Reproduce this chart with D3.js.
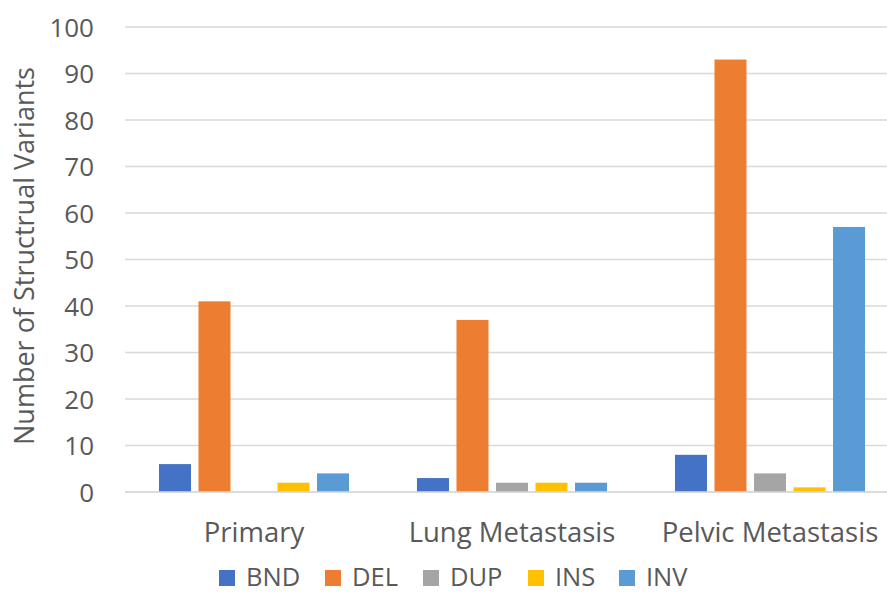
<!DOCTYPE html>
<html>
<head>
<meta charset="utf-8">
<script src="https://cdn.jsdelivr.net/npm/d3@7"></script>
<style>
  html, body { margin: 0; padding: 0; background: #fff; }
  svg { display: block; }
  text { font-family: "Open Sans", "Liberation Sans", sans-serif; fill: #595959; }
</style>
</head>
<body>
<svg id="chart" width="887" height="595"></svg>
<script>
// Structural variant counts per sample
const categories = ["Primary", "Lung Metastasis", "Pelvic Metastasis"];
const seriesNames = ["BND", "DEL", "DUP", "INS", "INV"];
const seriesColors = ["#4472C4", "#ED7D31", "#A5A5A5", "#FFC000", "#5B9BD5"];
const BND = [6, 3, 8];
const DEL = [41, 37, 93];
const DUP = [0, 2, 4];
const INS = [2, 2, 1];
const INV = [4, 2, 57];
const yTicks = [0, 10, 20, 30, 40, 50, 60, 70, 80, 90, 100];
const yTitle = "Number of Structrual Variants";

const seriesValues = [BND, DEL, DUP, INS, INV];

const svg = d3.select("#chart");
const plot = { left: 125, right: 899, top: 27, bottom: 492 };

const x0 = d3.scaleBand().domain(categories).range([plot.left, plot.right]).padding(0);
const x1 = d3.scaleBand().domain(seriesNames).range([0, x0.bandwidth()])
  .paddingInner(0.19).paddingOuter(0.86);
const y = d3.scaleLinear().domain([0, 100]).range([plot.bottom, plot.top]);
const color = d3.scaleOrdinal().domain(seriesNames).range(seriesColors);

// Horizontal gridlines
svg.append("g")
  .selectAll("line")
  .data(yTicks)
  .join("line")
  .attr("x1", plot.left).attr("x2", plot.right)
  .attr("y1", d => y(d)).attr("y2", d => y(d))
  .attr("stroke", "#D9D9D9").attr("stroke-width", 1.3);

// Y axis labels
const yAxis = d3.axisLeft(y).tickValues(yTicks).tickSize(0).tickPadding(0);
const yG = svg.append("g").attr("transform", `translate(94,0)`).call(yAxis);
yG.select(".domain").remove();
yG.selectAll("text")
  .attr("font-family", null)
  .style("font-size", "26px").style("fill", "#595959")
  .attr("dy", "0.35em");

// Bars
const groups = svg.append("g")
  .selectAll("g")
  .data(categories)
  .join("g")
  .attr("transform", d => `translate(${x0(d)},0)`);

groups.selectAll("rect")
  .data((c, i) => seriesNames.map((s, j) => ({ s, v: seriesValues[j][i] })))
  .join("rect")
  .attr("x", d => x1(d.s))
  .attr("width", x1.bandwidth())
  .attr("y", d => y(d.v))
  .attr("height", d => y(0) - y(d.v))
  .attr("fill", d => color(d.s));

// X axis line
svg.append("line")
  .attr("x1", plot.left).attr("x2", plot.right)
  .attr("y1", y(0)).attr("y2", y(0))
  .attr("stroke", "#D9D9D9").attr("stroke-width", 1.5);

// Category labels
const xAxis = d3.axisBottom(x0).tickSize(0).tickPadding(0);
const xG = svg.append("g").attr("transform", `translate(0,542)`).call(xAxis);
xG.select(".domain").remove();
xG.selectAll("text")
  .attr("font-family", null)
  .attr("dy", 0)
  .style("font-size", "27.5px").style("fill", "#595959");

// Y axis title
svg.append("text")
  .attr("transform", `translate(34,256) rotate(-90)`)
  .attr("text-anchor", "middle")
  .style("font-size", "27px")
  .text(yTitle);

// Legend
const legendX = [219, 325, 423, 528, 619];
const legend = svg.append("g")
  .selectAll("g")
  .data(seriesNames)
  .join("g")
  .attr("transform", (d, i) => `translate(${legendX[i]},570)`);
legend.append("rect")
  .attr("width", 16).attr("height", 16)
  .attr("fill", d => color(d));
legend.append("text")
  .attr("x", 27).attr("y", 16)
  .style("font-size", "25.5px")
  .text(d => d);
</script>
</body>
</html>
